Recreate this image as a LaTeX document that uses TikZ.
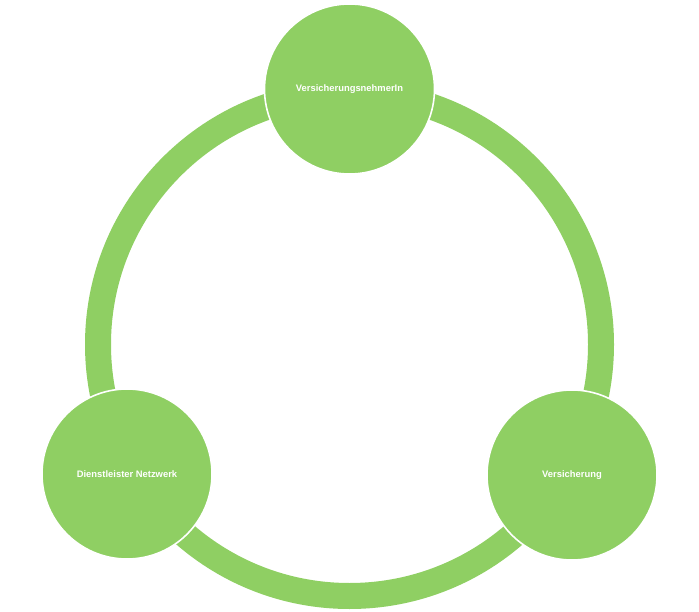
\documentclass[tikz,border=0pt]{standalone}
\usepackage{fontspec}
\setmainfont{Liberation Sans}
\usetikzlibrary{positioning}
\definecolor{cyclegreen}{RGB}{143,207,99}

\begin{document}
\begin{tikzpicture}[line cap=round,line join=round,x=1pt,y=-1pt,
  party/.style={circle,fill=cyclegreen,draw=white,line width=1.6pt,minimum size=170pt,inner sep=0pt,
    text=white,font=\fontsize{9.4}{11}\selectfont\bfseries}]
\useasboundingbox (0,0) rectangle (699,612);
\coordinate (mid) at (349.5,344.5);
\draw [cyclegreen,line width=26pt] (mid) circle (251.5);
\node[party] (nehmer) at (349.5,89) {VersicherungsnehmerIn};
\node[party] (netz) at (127,474) {Dienstleister Netzwerk};
\node[party] (vers) at (572,475) {Versicherung};
\end{tikzpicture}
\end{document}
